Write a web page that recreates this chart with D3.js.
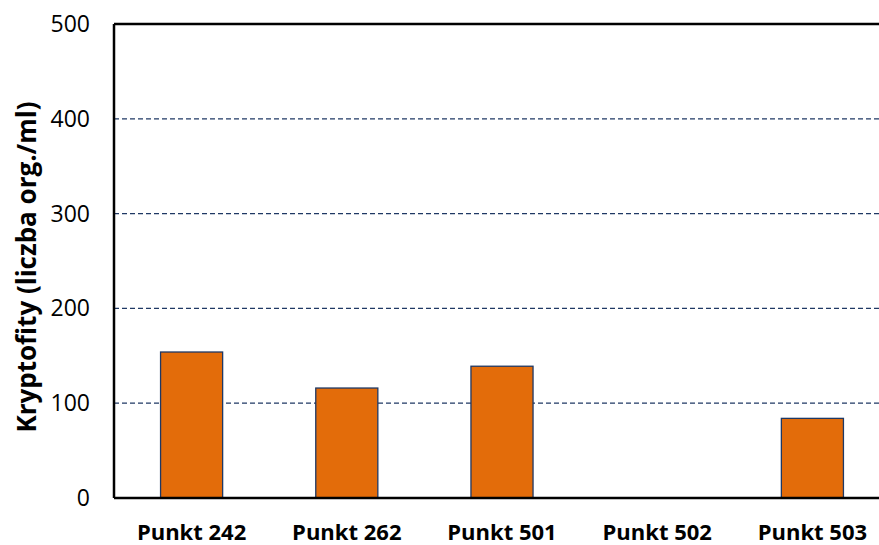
<!DOCTYPE html>
<html>
<head>
<meta charset="utf-8">
<script src="https://cdn.jsdelivr.net/npm/d3@7"></script>
<style>
  body { margin: 0; background: #fff; }
  svg { display: block; font-family: "Open Sans", sans-serif; }
</style>
</head>
<body>
<svg></svg>
<script>
const categories = ["Punkt 242", "Punkt 262", "Punkt 501", "Punkt 502", "Punkt 503"];
const values = [154, 116, 139, 0, 84];
const yTicks = [0, 100, 200, 300, 400, 500];

const W = 879, H = 545;
const margin = { top: 24, left: 114, bottom: 47 };
const plotRight = 890;

const svg = d3.select("svg").attr("width", W).attr("height", H);

const x = d3.scaleBand()
    .domain(categories)
    .range([margin.left, plotRight])
    .paddingInner(0.6)
    .paddingOuter(0.3);

const y = d3.scaleLinear()
    .domain([0, 500])
    .range([H - margin.bottom, margin.top]);

// gridlines
svg.append("g")
    .selectAll("line")
    .data(yTicks.filter(d => d > 0 && d < 500))
    .enter().append("line")
    .attr("x1", margin.left)
    .attr("x2", W)
    .attr("y1", d => y(d))
    .attr("y2", d => y(d))
    .attr("stroke", "#1f3864")
    .attr("stroke-width", 1.3)
    .attr("stroke-dasharray", "5,3");

// bars
svg.append("g")
    .selectAll("rect")
    .data(values)
    .enter().append("rect")
    .attr("x", (d, i) => x(categories[i]))
    .attr("width", x.bandwidth())
    .attr("y", d => y(d))
    .attr("height", d => y(0) - y(d))
    .attr("fill", "#e36c0a")
    .attr("stroke", "#1f3864")
    .attr("stroke-width", 1.3)
    .style("display", d => d > 0 ? null : "none");

// frame: top, left, bottom
svg.append("line")
    .attr("x1", margin.left).attr("x2", W)
    .attr("y1", y(500)).attr("y2", y(500))
    .attr("stroke", "#000").attr("stroke-width", 2.5);
svg.append("line")
    .attr("x1", margin.left).attr("x2", margin.left)
    .attr("y1", y(500)).attr("y2", y(0))
    .attr("stroke", "#000").attr("stroke-width", 2.5);
svg.append("line")
    .attr("x1", margin.left).attr("x2", W)
    .attr("y1", y(0)).attr("y2", y(0))
    .attr("stroke", "#000").attr("stroke-width", 2.5);

// y tick labels
svg.append("g")
    .selectAll("text")
    .data(yTicks)
    .enter().append("text")
    .attr("x", 90)
    .attr("y", d => y(d))
    .attr("dy", "0.35em")
    .attr("text-anchor", "end")
    .attr("font-size", 23)
    .attr("fill", "#000")
    .text(d => d);

// x labels
svg.append("g")
    .selectAll("text")
    .data(categories)
    .enter().append("text")
    .attr("x", d => x(d) + x.bandwidth() / 2)
    .attr("y", 540)
    .attr("text-anchor", "middle")
    .attr("font-size", 22)
    .attr("font-weight", "bold")
    .attr("fill", "#000")
    .text(d => d);

// y title
svg.append("text")
    .attr("transform", `translate(36,${(y(0) + y(500)) / 2 + 6}) rotate(-90)`)
    .attr("text-anchor", "middle")
    .attr("font-size", 26)
    .attr("font-weight", "bold")
    .attr("fill", "#000")
    .text("Kryptofity (liczba org./ml)");
</script>
</body>
</html>
